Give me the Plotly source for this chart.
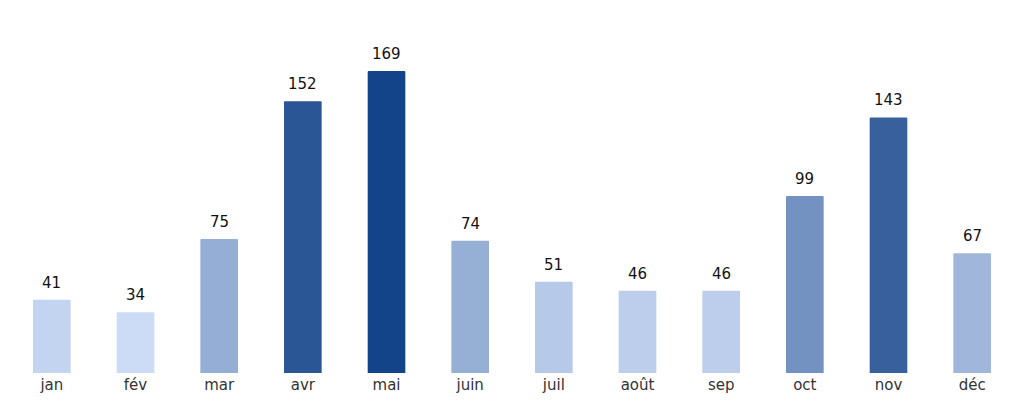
import plotly.graph_objects as go

months = ["jan", "fév", "mar", "avr", "mai", "juin", "juil", "août", "sep", "oct", "nov", "déc"]
values = [41, 34, 75, 152, 169, 74, 51, 46, 46, 99, 143, 67]

fig = go.Figure()
fig.add_trace(go.Bar(
    x=months, y=values,
    marker=dict(color=values, colorscale=[[0, "#cddcf6"], [1, "#134388"]],
                cmin=min(values), cmax=max(values), line=dict(width=0), cornerradius=1),
    width=0.45,
    hoverinfo="skip",
))
for m, v in zip(months, values):
    fig.add_annotation(x=m, y=v, text=str(v), showarrow=False, yanchor="bottom",
                       yshift=6, font=dict(family="DejaVu Sans", size=15, color="#111"))

fig.update_layout(
    width=1024, height=404,
    margin=dict(l=2, r=18, t=12, b=39),
    paper_bgcolor="white", plot_bgcolor="white",
    showlegend=False,
    font=dict(family="DejaVu Sans", size=15, color="#333"),
    xaxis=dict(showgrid=False, showline=False, zeroline=False, ticks="",
               automargin=False, ticklabelstandoff=1,
               tickfont=dict(size=15, color="#333")),
    yaxis=dict(range=[0, 197.5], visible=False, showgrid=False, zeroline=False,
               automargin=False),
)
fig.write_html("out.html")
